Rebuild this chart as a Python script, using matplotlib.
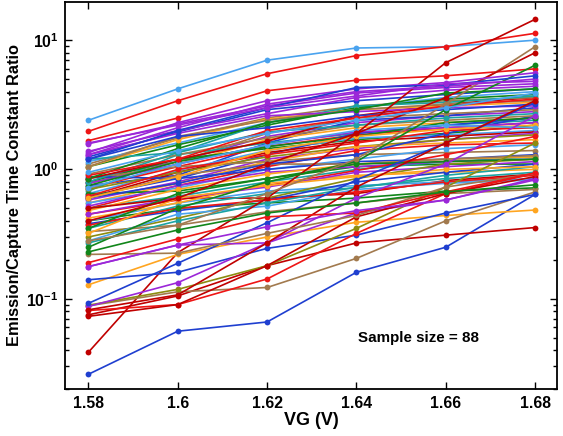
import matplotlib
matplotlib.use("Agg")
import matplotlib.pyplot as plt
from matplotlib.ticker import LogLocator, NullFormatter

plt.rcParams['font.family'] = ['Liberation Sans', 'DejaVu Sans']
plt.rcParams['font.weight'] = 'bold'
plt.rcParams['mathtext.fontset'] = 'custom'
plt.rcParams['mathtext.rm'] = 'Liberation Sans:bold'
plt.rcParams['mathtext.bf'] = 'Liberation Sans:bold'
plt.rcParams['mathtext.default'] = 'rm'

# gate voltage sweep (V)
vg = [1.58, 1.60, 1.62, 1.64, 1.66, 1.68]
vg_labels = ['1.58', '1.6', '1.62', '1.64', '1.66', '1.68']

LB, R, DR, P, B = '#4aa3ef', '#ee1515', '#c00000', '#9b27d8', '#1f3fd0'
G, T, O, BR, OL = '#11861a', '#1ba3a3', '#ffa520', '#a27a4e', '#8c8c10'

# emission/capture time constant ratio, one row per trap
outlier_ratios = [
    [2.4, 4.2, 7.0, 8.7, 8.9, 10.0],
    [1.97, 3.4, 5.5, 7.6, 8.9, 11.3],
    [1.67, 2.5, 4.06, 4.9, 5.3, 6.0],
    [0.0385, 0.227, 0.6, 1.9, 6.7, 14.5],
    [0.026, 0.056, 0.066, 0.16, 0.25, 0.64],
    [0.075, 0.105, 0.18, 0.27, 0.31, 0.355],
    [0.128, 0.22, 0.30, 0.39, 0.44, 0.485],
    [0.088, 0.113, 0.122, 0.205, 0.40, 0.67],
    [0.14, 0.16, 0.245, 0.31, 0.46, 0.64],
    [0.081, 0.09, 0.142, 0.32, 0.65, 0.93],
    [0.089, 0.118, 0.18, 0.35, 0.73, 1.6],
    [0.087, 0.133, 0.27, 0.46, 0.58, 0.85],
    [0.092, 0.188, 0.387, 0.83, 1.6, 3.3],
    [0.177, 0.26, 0.27, 0.6, 1.1, 2.6],
    [0.073, 0.09, 0.18, 0.43, 0.65, 0.88],
    [0.082, 0.107, 0.27, 0.73, 1.6, 3.4],
    [0.22, 0.225, 0.32, 0.44, 0.73, 0.93],
    [0.19, 0.29, 0.43, 0.46, 0.67, 0.94],
    [0.177, 0.26, 0.36, 0.48, 0.58, 0.83],
    [0.23, 0.34, 0.46, 0.55, 0.67, 0.76],
    [0.25, 0.5, 0.8, 1.15, 2.9, 6.4],
    [0.28, 0.37, 0.65, 1.2, 3.2, 8.9],
    [0.4, 0.6, 1.1, 1.9, 3.6, 8.0],
    [1.35, 2.3, 3.4, 4.2, 4.7, 5.6],
    [1.3, 2.1, 3.2, 4.0, 4.4, 5.0],
    [1.2, 2.0, 3.0, 4.3, 4.5, 5.3],
    [1.6, 2.2, 3.0, 3.7, 4.6, 4.8],
    [0.95, 1.4, 1.9, 2.4, 3.0, 3.9],
]
outlier_colors = [LB, R, R, DR, B, DR, O, BR, B, R, OL, P, B, P,
                  DR, DR, BR, R, P, G, G, BR, DR, P, P, B, P, LB]

upper_ratios = [
    [1.58, 2.25, 3.1, 3.9, 4.3, 4.6],
    [1.25, 1.95, 2.9, 3.4, 3.8, 4.2],
    [1.38, 2.0, 2.7, 3.6, 4.1, 4.4],
    [1.1, 1.75, 2.5, 3.1, 3.4, 3.6],
    [1.15, 1.6, 2.3, 3.0, 3.6, 4.0],
    [1.05, 1.55, 2.2, 3.0, 3.5, 3.8],
    [1.2, 1.35, 2.3, 3.1, 3.3, 3.7],
    [1.05, 1.7, 2.45, 2.9, 3.1, 3.3],
    [1.05, 1.8, 2.4, 2.9, 3.2, 3.4],
    [1.3, 1.9, 2.6, 2.8, 3.0, 3.1],
    [1.2, 1.8, 2.1, 2.6, 2.9, 3.2],
    [0.85, 1.45, 2.3, 2.9, 3.9, 4.2],
    [0.9, 1.2, 2.0, 2.5, 3.1, 3.5],
]
upper_colors = [P, B, P, BR, LB, G, T, O, BR, P, B, G, R]

middle_ratios = [
    [0.85, 1.15, 1.8, 2.3, 2.6, 2.8],
    [0.75, 0.9, 1.6, 2.4, 2.6, 3.0],
    [0.78, 1.15, 1.9, 2.5, 2.7, 2.9],
    [0.7, 1.1, 1.7, 2.1, 2.3, 2.5],
    [0.72, 1.05, 1.5, 1.85, 2.1, 2.3],
    [0.68, 1.3, 1.6, 1.9, 2.2, 2.4],
    [0.8, 1.2, 1.45, 1.7, 1.9, 2.2],
    [0.65, 0.98, 1.4, 1.75, 1.85, 2.0],
    [0.62, 0.85, 1.3, 1.9, 2.2, 2.5],
    [0.6, 0.95, 1.35, 1.65, 1.8, 1.95],
    [0.58, 0.8, 1.2, 1.45, 1.7, 1.9],
    [0.7, 0.95, 1.25, 1.5, 1.7, 1.85],
    [0.55, 0.78, 1.15, 1.5, 1.6, 1.7],
    [0.85, 1.05, 1.15, 1.3, 1.35, 1.4],
    [0.5, 0.75, 1.05, 1.4, 1.55, 1.6],
    [0.55, 0.72, 1.0, 1.2, 1.45, 1.55],
    [0.65, 0.68, 0.85, 1.05, 1.1, 1.1],
    [0.88, 0.85, 1.0, 1.15, 1.2, 1.3],
    [0.5, 0.62, 0.8, 1.0, 1.15, 1.25],
    [0.52, 0.75, 0.95, 1.05, 1.15, 1.2],
    [0.48, 0.7, 0.92, 1.1, 1.2, 1.25],
    [0.6, 0.9, 1.1, 1.1, 1.2, 1.28],
    [0.45, 0.58, 0.75, 0.98, 1.3, 1.8],
    [0.5, 0.6, 0.6, 0.65, 0.82, 0.92],
    [0.4, 0.5, 0.55, 0.6, 0.68, 0.72],
    [0.4, 0.55, 0.68, 0.75, 0.8, 0.85],
    [0.42, 0.55, 0.78, 0.9, 0.95, 1.0],
    [0.35, 0.52, 0.65, 0.72, 0.9, 1.05],
    [0.38, 0.48, 0.58, 0.8, 0.95, 1.1],
    [0.45, 0.6, 0.73, 0.95, 1.05, 1.15],
    [0.33, 0.37, 0.47, 0.55, 0.65, 0.7],
    [0.3, 0.42, 0.6, 0.85, 1.1, 1.2],
    [0.28, 0.45, 0.52, 0.7, 0.78, 0.83],
    [0.37, 0.5, 0.58, 0.67, 0.8, 0.9],
    [0.35, 0.65, 0.85, 1.1, 1.15, 1.2],
    [0.32, 0.6, 0.75, 0.88, 1.0, 1.05],
    [0.27, 0.4, 0.55, 0.73, 0.85, 0.95],
    [0.6, 0.78, 1.1, 1.3, 1.9, 2.6],
    [0.78, 1.1, 1.55, 1.95, 2.1, 2.3],
    [0.75, 1.15, 1.5, 1.8, 2.3, 2.5],
    [0.62, 1.0, 1.3, 1.6, 2.0, 2.1],
    [0.92, 1.3, 1.75, 2.2, 2.4, 2.6],
    [0.8, 1.35, 1.95, 2.2, 2.5, 2.7],
    [0.6, 0.88, 1.4, 1.8, 2.05, 2.2],
    [0.72, 1.1, 1.55, 2.0, 2.2, 2.1],
    [0.85, 1.2, 1.65, 2.6, 3.2, 3.6],
]
middle_colors = [P, B, BR, O, R, T, G, LB, B, DR, P, OL, O, BR, R, LB,
                 G, B, T, P, O, BR, R, DR, G, LB, O, T, B, P, BR, OL,
                 LB, R, G, O, T, B, P, G, R, BR, T, O, LB, DR]

sample_note = 'Sample size = 88'

fig = plt.figure(figsize=(5.63, 4.36), dpi=100)
ax = fig.add_axes([0.1158, 0.1078, 0.8735, 0.888])

all_ratios = middle_ratios + upper_ratios + outlier_ratios
all_colors = middle_colors + upper_colors + outlier_colors
for row, c in zip(all_ratios, all_colors):
    ax.plot(vg, row, color=c, lw=1.2, marker='o', ms=4.2, mew=0)

ax.set_yscale('log')
ax.set_xlim(1.5748, 1.6849)
ax.set_ylim(0.02, 19.8)
ax.set_xticks(vg)
ax.set_xticklabels(vg_labels)
ax.yaxis.set_major_locator(LogLocator(base=10, numticks=10))
ax.yaxis.set_minor_locator(LogLocator(base=10, subs=range(2, 10), numticks=20))
ax.yaxis.set_minor_formatter(NullFormatter())

ax.tick_params(which='both', direction='in', top=True, right=True,
               labelsize=11.3, width=1.0)
ax.tick_params(which='major', length=5, pad=5)
ax.tick_params(which='minor', length=3)
for s in ax.spines.values():
    s.set_linewidth(1.3)

ax.set_xlabel('VG (V)', fontsize=13, fontweight='bold', labelpad=1)
ax.set_ylabel('Emission/Capture Time Constant Ratio', fontsize=11.8,
              fontweight='bold', labelpad=3)

ax.text(1.6539, 0.0497, sample_note, ha='center', va='center',
        fontsize=10.9, fontweight='bold')

fig.savefig('out.png', dpi=100)
